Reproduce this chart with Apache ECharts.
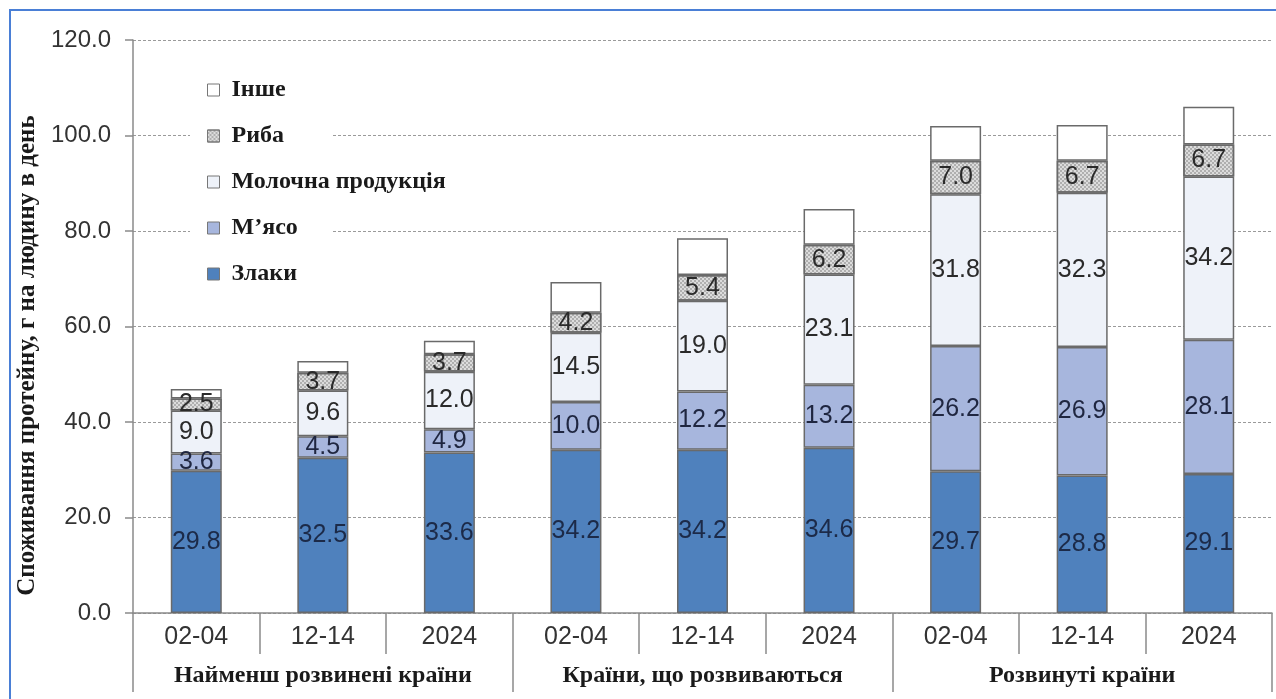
<!DOCTYPE html>
<html>
<head>
<meta charset="utf-8">
<script src="https://cdn.jsdelivr.net/npm/echarts@6/dist/echarts.min.js"></script>
<style>
  html, body { margin: 0; padding: 0; background: #fff; }
  #chart { width: 1276px; height: 699px; }
</style>
</head>
<body>
<div id="chart"></div>
<script>
// періоди та групи країн
var periods = ['02-04', '12-14', '2024', '02-04', '12-14', '2024', '02-04', '12-14', '2024'];
var groups = ['Найменш розвинені країни', 'Країни, що розвиваються', 'Розвинуті країни'];

// значення, г на людину в день
var cereals = [29.8, 32.5, 33.6, 34.2, 34.2, 34.6, 29.7, 28.8, 29.1];
var meat    = [3.6, 4.5, 4.9, 10.0, 12.2, 13.2, 26.2, 26.9, 28.1];
var dairy   = [9.0, 9.6, 12.0, 14.5, 19.0, 23.1, 31.8, 32.3, 34.2];
var fish    = [2.5, 3.7, 3.7, 4.2, 5.4, 6.2, 7.0, 6.7, 6.7];
var other   = [2.0, 2.5, 2.8, 6.4, 7.7, 7.5, 7.3, 7.5, 7.9];

var yTicks = [0, 20, 40, 60, 80, 100, 120];

var myChart = echarts.init(document.getElementById('chart'));

var serif = '"Liberation Serif", "Times New Roman", serif';
var sans = '"Liberation Sans", Arial, sans-serif';

function fmt(p) { return p.value.toFixed(1); }

function mkSeries(name, data, color, labelColor, showLabel, decal) {
    var s = {
        name: name,
        type: 'bar',
        stack: 'total',
        barWidth: 51,
        data: data,
        itemStyle: {
            color: color,
            borderColor: '#6a6a6a',
            borderWidth: 1.5
        },
        label: {
            show: showLabel,
            position: 'inside',
            formatter: fmt,
            color: labelColor,
            fontFamily: sans,
            fontSize: 25
        },
        emphasis: { disabled: true }
    };
    if (decal) s.itemStyle.decal = decal;
    return s;
}

// крапчастий візерунок для риби
var fishDecal = {
    symbol: 'rect',
    symbolSize: 1,
    color: 'rgba(120,120,120,0.45)',
    dashArrayX: [[2, 2], [0, 2, 2, 0]],
    dashArrayY: [2, 0],
    rotation: 0
};

option = {
    animation: false,
    aria: { enabled: false },
    grid: {
        left: 133,
        right: 4,
        top: 40,
        bottom: 86
    },
    graphic: [
        {
            type: 'rect',
            z: 3,
            shape: { x: 190, y: 66, width: 143, height: 228 },
            style: { fill: '#fff' }
        },
        {
            type: 'polyline',
            z: 10,
            shape: { points: [[10, 700], [10, 10], [1290, 10]] },
            style: { stroke: '#4a7fd6', lineWidth: 2, fill: null }
        }
    ],
    legend: {
        orient: 'vertical',
        left: 202,
        top: 73,
        z: 5,
        itemGap: 22,
        itemWidth: 12,
        itemHeight: 12,
        icon: 'rect',
        selectedMode: false,
        data: ['Інше', 'Риба', 'Молочна продукція', 'М’ясо', 'Злаки'],
        textStyle: {
            fontFamily: serif,
            fontWeight: 'bold',
            fontSize: 24,
            color: '#1a1a1a',
            padding: [0, 0, 0, 7]
        },
        itemStyle: { borderColor: '#777', borderWidth: 1 }
    },
    xAxis: [
        {
            type: 'category',
            data: periods,
            position: 'bottom',
            axisLine: { lineStyle: { color: '#8a8a8a', width: 1.5 } },
            axisTick: { show: true, length: 41, interval: 0, lineStyle: { color: '#8a8a8a', width: 1.5 } },
            axisLabel: {
                interval: 0,
                margin: 12,
                color: '#333',
                fontFamily: sans,
                fontSize: 25
            }
        },
        {
            type: 'category',
            data: groups,
            position: 'bottom',
            axisLine: { show: false },
            axisTick: { show: true, length: 79, interval: 0, lineStyle: { color: '#8a8a8a', width: 1.5 } },
            axisLabel: {
                interval: 0,
                margin: 51,
                color: '#1a1a1a',
                fontFamily: serif,
                fontWeight: 'bold',
                fontSize: 24
            }
        }
    ],
    yAxis: {
        type: 'value',
        min: yTicks[0],
        max: yTicks[yTicks.length - 1],
        interval: 20,
        name: 'Споживання протейну, г на людину в день',
        nameLocation: 'middle',
        nameGap: 91,
        nameTextStyle: {
            fontFamily: serif,
            fontWeight: 'bold',
            fontSize: 25,
            color: '#1a1a1a',
            padding: [0, 58, 0, 0]
        },
        axisLine: { show: true, lineStyle: { color: '#8a8a8a', width: 1.5 } },
        axisTick: { show: true, length: 8, lineStyle: { color: '#8a8a8a', width: 1.5 } },
        axisLabel: {
            margin: 22,
            color: '#333',
            fontFamily: sans,
            fontSize: 24,
            formatter: function (v) { return v.toFixed(1); }
        },
        splitLine: {
            lineStyle: { color: '#9a9a9a', type: [3, 2], width: 1.2 }
        }
    },
    series: [
        mkSeries('Злаки', cereals, '#4f81bd', '#1c2a48', true),
        mkSeries('М’ясо', meat, '#a7b6dd', '#1f2640', true),
        mkSeries('Молочна продукція', dairy, '#eef2f9', '#2a2a2a', true),
        mkSeries('Риба', fish, '#dcdcdc', '#2a2a2a', true, fishDecal),
        mkSeries('Інше', other, '#ffffff', '#2a2a2a', false)
    ]
};

myChart.setOption(option);
</script>
</body>
</html>
